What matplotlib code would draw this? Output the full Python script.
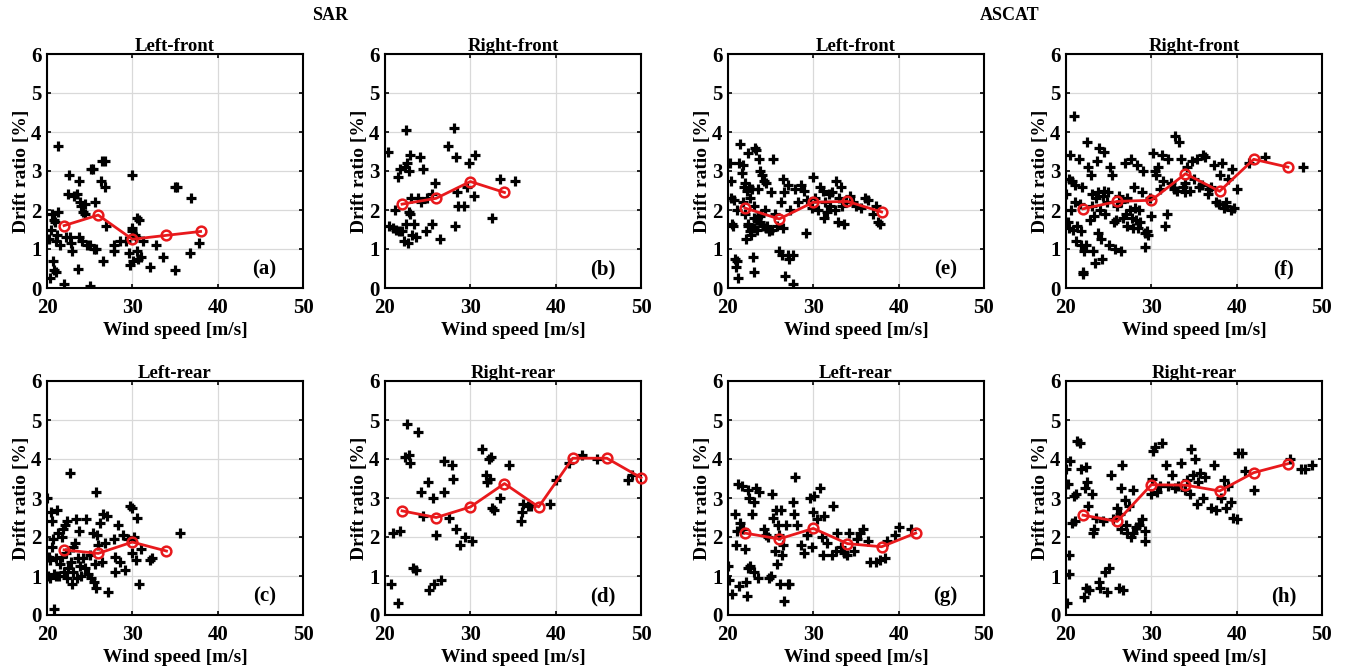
from matplotlib import pyplot as plt

# %% Data (wind speed [m/s], drift ratio [%])
# SAR left-front (a)
sar_lf_x = [20.3, 20.5, 20.2, 20.6, 20.8, 20.9, 20.7, 20.8, 21.0, 21.0, 21.2, 21.3, 21.5, 21.3, 22.0, 22.2,
            22.5, 22.6, 22.7, 22.8, 22.9, 23.2, 23.5, 23.6, 23.7, 23.8, 23.9, 24.0, 24.1, 24.2, 24.4, 24.5,
            24.7, 25.0, 25.0, 25.2, 25.4, 25.5, 25.6, 25.7, 26.3, 26.5, 26.8, 26.6, 26.8, 26.9, 27.8, 27.8,
            28.6, 29.2, 29.6, 29.7, 30.0, 30.0, 30.0, 30.1, 30.3, 30.4, 30.5, 30.5, 30.7, 30.8, 31.0, 31.3,
            32.1, 32.8, 33.6, 35.0, 35.2, 35.0, 36.8, 36.9, 37.8]
sar_lf_y = [0.25, 1.5, 1.25, 1.9, 1.75, 1.7, 0.7, 0.45, 0.4, 1.2, 1.35, 1.95, 1.1, 3.65, 0.1, 1.3,
            2.4, 2.9, 1.3, 1.15, 0.95, 2.35, 2.4, 0.5, 1.3, 2.75, 2.2, 2.1, 1.2, 1.95, 2.15, 1.9,
            1.1, 0.05, 1.1, 3.05, 3.05, 1.0, 2.2, 1.0, 2.75, 3.25, 3.25, 0.7, 2.6, 1.6, 1.1, 0.95,
            1.2, 1.2, 0.9, 0.6, 2.9, 1.45, 1.55, 0.7, 1.35, 1.3, 0.95, 1.8, 0.75, 1.75, 0.8, 1.2,
            0.55, 1.1, 0.8, 2.6, 2.6, 0.45, 0.9, 2.3, 1.15]
sar_lf_bin = [22, 26, 30, 34, 38]
sar_lf_mean = [1.6, 1.87, 1.25, 1.35, 1.45]

# SAR right-front (b)
sar_rf_x = [20.3, 20.5, 20.9, 21.2, 21.3, 21.5, 21.6, 21.8, 22.0, 22.2, 22.4, 22.5, 22.5, 22.6, 22.7, 22.8,
            22.8, 22.9, 22.9, 23.1, 23.2, 23.4, 23.6, 23.9, 24.1, 24.2, 24.4, 24.8, 24.9, 25.5, 25.5, 25.9,
            26.4, 27.4, 28.1, 28.2, 28.3, 28.4, 28.5, 29.2, 29.6, 29.8, 30.4, 30.6, 32.5, 33.5, 35.2]
sar_rf_y = [3.5, 1.6, 1.55, 2.0, 1.5, 2.85, 1.45, 3.05, 1.45, 1.2, 3.1, 4.05, 1.65, 3.2, 1.15, 3.0,
            1.95, 3.4, 1.9, 2.3, 1.35, 1.65, 1.3, 2.3, 3.35, 2.2, 3.05, 1.45, 2.3, 1.65, 2.4, 2.7,
            1.25, 3.65, 4.1, 1.6, 3.35, 2.45, 2.1, 2.1, 2.6, 3.2, 2.35, 3.4, 1.8, 2.8, 2.75]
sar_rf_bin = [22, 26, 30, 34]
sar_rf_mean = [2.15, 2.3, 2.73, 2.45]

# SAR left-rear (c)
sar_lr_x = [20.0, 20.1, 20.2, 20.3, 20.4, 20.5, 20.6, 20.6, 20.7, 20.8, 20.8, 21.0, 21.1, 21.2, 21.3, 21.4,
            21.5, 21.7, 21.8, 21.9, 22.0, 22.1, 22.2, 22.3, 22.4, 22.5, 22.7, 22.8, 22.9, 23.0, 23.1, 23.3,
            23.4, 23.5, 23.6, 23.7, 23.9, 24.0, 24.2, 24.4, 24.6, 24.8, 25.0, 25.2, 25.4, 25.5, 25.6, 25.7,
            25.8, 25.9, 26.0, 26.2, 26.4, 26.6, 26.8, 27.0, 27.1, 27.8, 28.0, 28.0, 28.3, 28.6, 28.9, 29.1,
            29.5, 29.7, 30.0, 30.0, 30.2, 30.4, 30.5, 30.8, 31.0, 32.1, 32.3, 35.6]
sar_lr_y = [3.0, 1.0, 1.5, 1.4, 0.95, 2.65, 1.75, 2.4, 1.95, 1.05, 0.15, 1.45, 1.0, 2.7, 2.1, 1.0,
            1.3, 1.5, 2.0, 2.2, 1.1, 2.3, 1.6, 0.95, 2.4, 1.2, 3.65, 1.35, 0.8, 1.75, 1.1, 1.85,
            2.45, 0.95, 1.45, 2.15, 1.25, 1.0, 1.45, 1.2, 2.45, 1.05, 1.55, 0.95, 2.1, 0.85, 1.3, 0.7,
            3.15, 2.05, 1.8, 2.35, 1.35, 2.6, 1.85, 2.55, 0.6, 1.95, 1.5, 1.1, 2.3, 1.35, 2.05, 1.15,
            1.95, 2.8, 1.6, 2.75, 2.0, 1.4, 2.5, 0.8, 1.7, 1.4, 1.45, 2.1]
sar_lr_bin = [22, 26, 30, 34]
sar_lr_mean = [1.67, 1.58, 1.87, 1.64]

# SAR right-rear (d)
sar_rr_x = [20.7, 20.9, 21.5, 21.7, 22.3, 22.6, 22.8, 22.9, 23.3, 23.6, 23.9, 24.2, 24.4, 25.0, 25.1, 25.6,
            25.8, 26.0, 26.6, 26.9, 26.9, 27.5, 27.8, 28.0, 28.3, 28.8, 29.4, 30.2, 31.4, 31.8, 31.9, 32.2,
            32.4, 32.3, 32.5, 32.8, 33.5, 34.5, 35.9, 36.1, 36.2, 36.7, 37.1, 39.3, 40.0, 41.6, 43.1, 44.9,
            48.5, 49.0]
sar_rr_y = [0.8, 2.1, 0.3, 2.15, 4.05, 4.9, 4.1, 3.9, 1.2, 1.15, 4.7, 3.15, 2.55, 3.4, 0.65, 3.0,
            0.8, 2.05, 0.9, 3.95, 3.15, 2.5, 3.85, 3.5, 2.2, 1.8, 2.0, 1.9, 4.25, 3.6, 3.4, 4.0,
            4.05, 3.5, 2.75, 2.7, 3.0, 3.85, 2.4, 2.65, 2.85, 2.8, 2.8, 2.85, 3.45, 3.9, 4.1, 4.0,
            3.45, 3.6]
sar_rr_bin = [22, 26, 30, 34, 38, 42, 46, 50]
sar_rr_mean = [2.67, 2.5, 2.77, 3.37, 2.77, 4.02, 4.02, 3.52]

# ASCAT left-front (e)
asc_lf_x = [20.2, 20.3, 20.4, 20.5, 20.6, 20.7, 20.8, 20.9, 21.0, 21.1, 21.2, 21.3, 21.4, 21.6, 21.7, 21.9,
            22.0, 22.1, 22.2, 22.3, 22.4, 22.5, 22.6, 22.7, 22.8, 22.9, 23.0, 23.0, 23.1, 23.2, 23.3, 23.4,
            23.5, 23.6, 23.7, 23.8, 23.9, 24.0, 24.1, 24.2, 24.4, 24.5, 24.8, 25.0, 25.3, 25.5, 25.8, 26.0,
            26.2, 26.3, 26.4, 26.5, 26.6, 26.7, 27.0, 27.0, 27.1, 27.3, 27.6, 27.6, 27.9, 28.2, 28.6, 28.9,
            29.1, 29.3, 29.8, 30.0, 30.2, 30.5, 30.8, 31.1, 31.2, 31.4, 31.6, 31.8, 32.0, 32.2, 32.5, 32.7,
            32.9, 33.0, 33.2, 33.4, 33.6, 33.8, 34.3, 34.6, 35.0, 35.6, 36.0, 36.4, 37.0, 37.4, 37.6, 37.8,
            22.0, 22.6, 23.4, 24.6, 21.8, 23.0, 24.3, 22.4, 23.8, 25.1]
asc_lf_y = [3.2, 2.75, 2.3, 1.65, 1.6, 2.25, 0.75, 0.55, 0.7, 2.0, 0.25, 3.2, 3.7, 2.95, 3.15, 2.6,
            2.7, 1.25, 2.5, 1.6, 3.45, 2.6, 1.45, 1.35, 2.55, 0.8, 0.4, 1.8, 2.1, 3.6, 3.55, 1.5,
            2.55, 3.3, 1.7, 3.0, 1.9, 2.9, 1.6, 2.75, 1.55, 2.7, 1.45, 2.45, 3.3, 1.9, 1.6, 0.95,
            2.2, 0.85, 2.8, 1.55, 2.45, 0.3, 2.65, 0.85, 0.75, 2.0, 0.1, 0.85, 2.55, 2.2, 2.65, 2.5,
            1.4, 2.25, 2.05, 2.85, 2.3, 2.0, 2.6, 2.5, 1.8, 2.2, 1.95, 2.4, 2.1, 2.45, 2.0, 2.75,
            1.7, 2.3, 2.6, 2.1, 1.65, 2.2, 2.35, 2.2, 2.1, 2.05, 2.3, 2.25, 1.9, 2.1, 1.7, 1.65,
            1.9, 2.3, 1.75, 1.6, 2.2, 1.55, 2.0, 1.65, 1.85, 1.5]
asc_lf_bin = [22, 26, 30, 34, 38]
asc_lf_mean = [2.05, 1.77, 2.2, 2.22, 1.95]

# ASCAT right-front (f)
asc_rf_x = [20.0, 20.2, 20.3, 20.4, 20.5, 20.6, 20.7, 20.8, 20.9, 21.0, 21.1, 21.2, 21.3, 21.5, 21.6, 21.7,
            21.8, 21.9, 22.0, 22.0, 22.1, 22.3, 22.5, 22.6, 22.8, 22.9, 23.0, 23.2, 23.3, 23.4, 23.6, 23.7,
            23.8, 23.9, 24.0, 24.1, 24.2, 24.3, 24.5, 24.6, 24.8, 25.0, 25.2, 25.4, 25.6, 25.8, 26.0, 26.2,
            26.5, 26.7, 26.9, 27.1, 27.2, 27.5, 27.6, 27.8, 28.0, 28.2, 28.3, 28.5, 28.7, 28.9, 29.0, 29.2,
            29.3, 29.5, 29.8, 30.0, 30.2, 30.4, 30.6, 30.8, 31.0, 31.2, 31.4, 31.6, 31.8, 32.0, 32.3, 32.6,
            32.8, 33.0, 33.3, 33.5, 33.7, 34.0, 34.2, 34.5, 34.8, 35.0, 35.3, 35.6, 36.0, 36.3, 36.6, 37.0,
            37.3, 37.6, 37.9, 38.0, 38.3, 38.5, 38.8, 39.0, 39.3, 39.5, 39.7, 40.0, 41.5, 43.3, 47.8,
            23.1, 24.4, 25.9, 27.0, 28.1, 29.6, 26.4, 27.7, 28.4, 24.9, 23.5, 33.9, 35.9, 36.8, 38.7]
asc_rf_y = [2.4, 1.7, 2.8, 1.55, 3.4, 2.0, 2.75, 1.5, 4.4, 2.2, 2.65, 1.2, 1.6, 3.3, 2.15, 1.1,
            1.45, 2.6, 0.35, 0.4, 0.95, 1.1, 3.75, 3.1, 1.75, 2.9, 2.1, 0.95, 1.85, 0.65, 3.25, 1.4,
            2.45, 3.6, 2.0, 1.25, 0.75, 2.35, 3.5, 1.9, 2.2, 1.1, 3.1, 2.9, 1.7, 1.0, 2.1, 2.35,
            0.95, 1.8, 3.2, 2.3, 1.6, 2.0, 3.3, 1.55, 2.6, 1.75, 3.15, 2.0, 1.7, 2.45, 3.0, 1.4,
            1.05, 1.45, 2.3, 1.85, 3.45, 3.0, 2.9, 3.1, 2.55, 3.4, 2.75, 1.6, 1.9, 3.3, 2.7, 2.55,
            3.9, 2.5, 3.75, 3.3, 2.6, 2.45, 3.1, 2.5, 3.25, 2.8, 3.3, 2.6, 3.4, 3.35, 2.4, 2.6,
            3.15, 2.2, 2.15, 2.9, 3.2, 2.05, 2.1, 2.8, 2.0, 3.05, 2.05, 2.55, 3.2, 3.35, 3.1,
            2.4, 2.5, 1.75, 1.9, 2.05, 1.35, 2.2, 1.8, 1.55, 2.45, 2.3, 2.7, 2.65, 2.55, 2.2]
asc_rf_bin = [22, 26, 30, 34, 38, 42, 46]
asc_rf_mean = [2.03, 2.22, 2.25, 2.93, 2.48, 3.3, 3.1]

# ASCAT left-rear (g)
asc_lr_x = [20.0, 20.1, 20.5, 20.8, 20.9, 21.0, 21.2, 21.3, 21.4, 21.6, 21.7, 22.0, 22.1, 22.2, 22.3, 22.4,
            22.5, 22.6, 22.8, 23.0, 23.1, 23.3, 23.5, 23.6, 24.2, 24.5, 24.7, 24.8, 25.0, 25.1, 25.3, 25.5,
            25.6, 25.7, 25.9, 26.0, 26.1, 26.2, 26.3, 26.5, 26.6, 26.8, 27.0, 27.2, 27.6, 27.7, 27.8, 28.1,
            28.6, 28.9, 29.3, 29.6, 29.8, 30.0, 30.1, 30.4, 30.8, 31.0, 31.1, 31.3, 31.6, 32.2, 32.3, 32.6,
            32.8, 33.2, 33.6, 34.0, 34.2, 34.8, 35.1, 35.5, 35.8, 36.4, 36.6, 37.3, 37.8, 38.4, 38.6, 39.6,
            40.0, 41.5]
asc_lr_y = [1.25, 0.9, 0.55, 2.6, 1.8, 2.15, 3.35, 0.75, 2.35, 3.3, 2.2, 1.7, 0.85, 0.5, 1.2, 3.2,
            3.0, 1.25, 2.6, 2.9, 1.1, 3.25, 0.95, 3.15, 2.2, 2.05, 2.0, 0.95, 1.0, 3.1, 2.5, 1.65,
            2.7, 1.3, 2.3, 2.05, 0.8, 2.7, 1.55, 1.8, 0.35, 2.3, 0.8, 0.8, 2.9, 2.6, 3.55, 2.3,
            1.8, 1.6, 2.05, 3.0, 1.75, 2.65, 3.05, 2.45, 3.25, 2.0, 1.55, 2.55, 1.85, 1.55, 2.8, 1.65,
            2.1, 1.75, 1.6, 1.55, 2.1, 1.65, 1.95, 2.1, 2.2, 1.9, 1.35, 1.35, 1.4, 1.45, 1.9, 2.05,
            2.25, 2.2]
asc_lr_bin = [22, 26, 30, 34, 38, 42]
asc_lr_mean = [2.1, 1.95, 2.22, 1.83, 1.75, 2.1]

# ASCAT right-rear (h)
asc_rr_x = [20.0, 20.1, 20.2, 20.3, 20.4, 20.5, 20.7, 20.9, 21.1, 21.2, 21.3, 21.6, 21.8, 22.1, 22.2, 22.3,
            22.4, 22.5, 22.6, 22.7, 23.0, 23.2, 23.3, 23.5, 23.9, 24.0, 24.3, 24.6, 24.8, 25.0, 25.3, 25.5,
            26.0, 26.2, 26.3, 26.4, 26.5, 26.6, 26.7, 26.9, 27.0, 27.2, 27.4, 27.6, 27.8, 27.9, 28.2, 28.5,
            28.9, 29.2, 29.3, 30.0, 30.1, 30.2, 30.4, 30.7, 31.0, 31.3, 31.7, 32.0, 32.4, 32.8, 33.1, 33.5,
            33.9, 34.2, 34.5, 34.7, 34.9, 35.1, 35.3, 35.5, 35.7, 36.0, 36.3, 37.0, 37.3, 37.6, 38.2, 38.5,
            38.7, 39.0, 39.3, 39.6, 40.0, 40.2, 40.6, 41.0, 42.0, 46.2, 47.5, 48.0, 48.8]
asc_rr_y = [3.75, 0.3, 3.35, 1.05, 1.55, 3.95, 2.35, 3.05, 2.4, 3.1, 4.45, 4.4, 3.75, 0.45, 3.25, 0.7,
            3.8, 3.4, 2.8, 0.65, 3.1, 2.1, 2.2, 2.5, 0.85, 0.7, 2.4, 1.1, 0.6, 1.2, 3.6, 2.45,
            2.75, 0.7, 2.6, 3.25, 2.2, 3.85, 0.65, 2.95, 2.3, 2.1, 2.8, 2.0, 3.2, 2.1, 2.25, 2.3,
            2.45, 1.9, 2.15, 3.1, 3.5, 4.2, 4.3, 3.15, 3.3, 4.4, 3.85, 3.3, 3.6, 3.25, 3.3, 3.9,
            3.2, 3.45, 3.1, 4.25, 3.6, 4.0, 2.85, 3.4, 3.65, 3.0, 3.55, 2.75, 3.85, 2.7, 3.0, 3.45,
            2.75, 3.3, 2.9, 2.5, 2.45, 4.15, 4.15, 3.7, 3.2, 4.0, 3.75, 3.75, 3.85]
asc_rr_bin = [22, 26, 30, 34, 38, 42, 46]
asc_rr_mean = [2.56, 2.4, 3.34, 3.33, 3.18, 3.65, 3.88]

panel_titles = ['Left-front', 'Right-front', 'Left-front', 'Right-front',
                'Left-rear', 'Right-rear', 'Left-rear', 'Right-rear']
panel_tags = ['(a)', '(b)', '(e)', '(f)', '(c)', '(d)', '(g)', '(h)']
x_ticks = [20, 30, 40, 50]
y_ticks = [0, 1, 2, 3, 4, 5, 6]

plt.rcParams['font.family'] = 'Liberation Serif'
plt.rcParams['font.weight'] = 'bold'
plt.rcParams['axes.labelweight'] = 'bold'
plt.rcParams['axes.titleweight'] = 'bold'


def draw_panel(ax, wind, drift, bins, means, title, tag):
    """Scatter of drift ratios with the bin-averaged curve on top."""
    ax.plot(wind, drift, linestyle='none', marker='+', color='black',
            markersize=7.5, markeredgewidth=2.3, zorder=2)
    ax.plot(bins, means, color='#e8191c', linewidth=2, marker='o', markersize=7,
            markerfacecolor='none', markeredgewidth=1.8, zorder=3, clip_on=False)
    ax.set_xlim(20, 50)
    ax.set_ylim(0, 6)
    ax.set_xticks(x_ticks)
    ax.set_yticks(y_ticks)
    ax.grid(True, color='#d9d9d9', linewidth=0.9)
    ax.set_axisbelow(True)
    ax.tick_params(direction='in', top=True, right=True, length=3, width=1.2,
                   labelsize=15)
    ax.tick_params(axis='x', pad=7)
    ax.tick_params(axis='y', pad=4)
    for spine in ax.spines.values():
        spine.set_linewidth(1.5)
    ax.set_title(title, fontsize=13.5, pad=2)
    ax.set_xlabel('Wind speed [m/s]', fontsize=14, labelpad=3)
    ax.set_ylabel('Drift ratio [%]', fontsize=14, labelpad=1)
    ax.text(45.5, 0.48, tag, fontsize=15, ha='center', va='center')


fig = plt.figure(figsize=(13.45, 6.67), dpi=100)

panels = [
    (sar_lf_x, sar_lf_y, sar_lf_bin, sar_lf_mean),
    (sar_rf_x, sar_rf_y, sar_rf_bin, sar_rf_mean),
    (asc_lf_x, asc_lf_y, asc_lf_bin, asc_lf_mean),
    (asc_rf_x, asc_rf_y, asc_rf_bin, asc_rf_mean),
    (sar_lr_x, sar_lr_y, sar_lr_bin, sar_lr_mean),
    (sar_rr_x, sar_rr_y, sar_rr_bin, sar_rr_mean),
    (asc_lr_x, asc_lr_y, asc_lr_bin, asc_lr_mean),
    (asc_rr_x, asc_rr_y, asc_rr_bin, asc_rr_mean),
]

# Axes placement in figure pixels (left edges and bottom edges)
lefts = [47, 385, 728, 1066]
bottoms = [667 - 288, 667 - 615]
w_px, h_px = 256, 234

for i, (wx, dy, bx, by) in enumerate(panels):
    row, col = divmod(i, 4)
    ax = fig.add_axes([lefts[col] / 1345, bottoms[row] / 667, w_px / 1345, h_px / 667])
    draw_panel(ax, wx, dy, bx, by, panel_titles[i], panel_tags[i])

fig.text(330 / 1345, 1 - 15 / 667, 'SAR', fontsize=13, ha='center', va='center')
fig.text(1010 / 1345, 1 - 15 / 667, 'ASCAT', fontsize=13, ha='center', va='center')

fig.savefig('out.png', dpi=100)
